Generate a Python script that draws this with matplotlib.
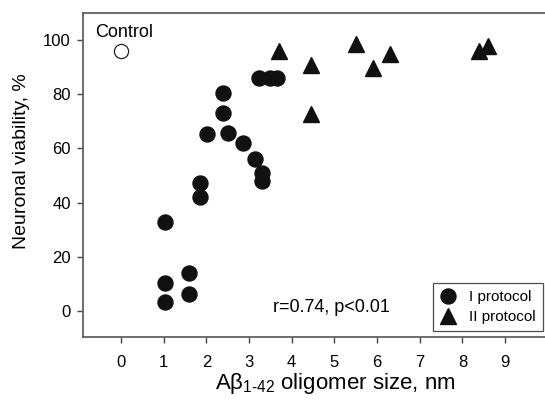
import matplotlib
matplotlib.use("Agg")
import matplotlib.pyplot as plt
from matplotlib.lines import Line2D

plt.rcParams['font.family'] = ['Liberation Sans', 'DejaVu Sans']
plt.rcParams['mathtext.fontset'] = 'custom'
plt.rcParams['mathtext.rm'] = 'Liberation Sans'
plt.rcParams['mathtext.it'] = 'Liberation Sans'

# Data
control_x = [0.0]
control_y = [96.0]

p1_x = [3.24, 3.48, 3.66, 2.40, 2.40, 2.01, 2.51, 2.85, 3.13, 3.30, 3.30,
        1.85, 1.85, 1.03, 1.03, 1.03, 1.60, 1.60]
p1_y = [86.0, 86.0, 86.0, 80.4, 73.3, 65.2, 65.9, 62.1, 56.2, 51.1, 48.0,
        47.1, 41.9, 32.9, 10.1, 3.1, 14.0, 6.1]

p2_x = [3.70, 4.44, 4.45, 5.50, 5.90, 6.30, 8.39, 8.59]
p2_y = [95.9, 90.8, 72.8, 98.8, 89.8, 94.8, 95.9, 97.8]

xticks = [0, 1, 2, 3, 4, 5, 6, 7, 8, 9]
yticks = [0, 20, 40, 60, 80, 100]
legend_labels = ['I protocol', 'II protocol']

fig = plt.figure(figsize=(5.45, 4.01), dpi=100)
W, H = 545.0, 401.0
left, right, top, bottom = 82.7, 547.7, 12.7, 337.3
ax = fig.add_axes([left / W, 1 - bottom / H, (right - left) / W, (bottom - top) / H])

mk = '#111111'
ax.plot(p1_x, p1_y, 'o', ms=10.8, color=mk, mec=mk, ls='none', zorder=3)
ax.plot(p2_x, p2_y, '^', ms=11.5, color=mk, mec=mk, ls='none', zorder=3)
ax.plot(control_x, control_y, 'o', ms=10.2, mfc='white', mec='#222222', mew=0.9, ls='none', zorder=3)

ax.set_xlim(-0.9, 10.0)
ax.set_ylim(-9.8, 110.2)
ax.set_xticks(xticks)
ax.set_yticks(yticks)
ax.tick_params(axis='both', direction='out', length=4.5, width=1.0, color='#444444',
               labelsize=12, top=False, right=False)
ax.tick_params(axis='x', pad=8)
ax.tick_params(axis='y', pad=4)

for s in ['left', 'bottom', 'top', 'right']:
    ax.spines[s].set_color('#555555')
    ax.spines[s].set_linewidth(1.2)

ax.set_xlabel(r'A$\beta_{\mathregular{1\text{-}42}}$ oligomer size, nm', fontsize=16)
ax.set_ylabel('Neuronal viability, %', fontsize=14)
ax.xaxis.label.set_va('center')
ax.yaxis.label.set_va('center')
ax.xaxis.set_label_coords((335.5 - left) / (right - left), -(383 - bottom) / (bottom - top), transform=ax.transAxes)
ax.yaxis.set_label_coords((22 - left) / (right - left), (bottom - 160.8) / (bottom - top), transform=ax.transAxes)

ax.text(0.06, 102.8, 'Control', fontsize=13, ha='center', va='center')
ax.text(4.94, 1.1, 'r=0.74, p<0.01', fontsize=13, ha='center', va='center')

handles = [Line2D([], [], marker='o', ls='none', color=mk, ms=10.8),
           Line2D([], [], marker='^', ls='none', color=mk, ms=11.5)]
leg = ax.legend(handles, legend_labels, loc='lower left',
                bbox_to_anchor=((433.3 - left) / (right - left), (bottom - 331) / (bottom - top)),
                fontsize=11, frameon=True, fancybox=False, edgecolor='#222222',
                handlelength=1.0, handletextpad=0.9, borderpad=0.45, labelspacing=0.4,
                borderaxespad=0)
leg.get_frame().set_linewidth(0.9)

fig.savefig('out.png', dpi=100)
